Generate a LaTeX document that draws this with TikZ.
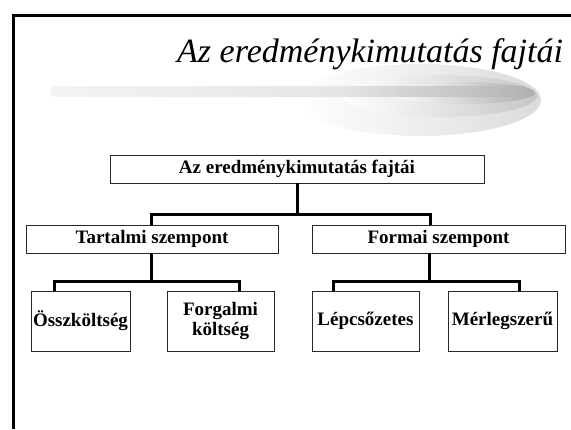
\documentclass[tikz,border=0pt]{standalone}
\usepackage{fontspec}
\setmainfont{Liberation Serif}
\usepackage{tikz}
\usetikzlibrary{calc,positioning}
\usepackage{xcolor}
\definecolor{frame-gray}{RGB}{40,40,40}
\pgfdeclarehorizontalshading{barshade}{100bp}{color(0bp)=(white); color(55bp)=(black!10); color(80bp)=(black!35); color(100bp)=(black!72)}
\tikzstyle{box}=[draw=frame-gray, line width=0.9pt, fill=white, align=center, inner sep=0pt, font=\bfseries\fontsize{19}{20}\selectfont]
\tikzstyle{wide}=[box, minimum height=28pt]
\tikzstyle{leaf}=[box, minimum height=60pt]
\tikzstyle{conn}=[line width=3pt]

\begin{document}
\begin{tikzpicture}[x=1pt,y=-1pt]
	\useasboundingbox (0,0) rectangle (571,429);
	\draw[line width=3pt] (13.5,429) -- (13.5,15) -- (571,15);
	\shade[left color=white, right color=black!14] (420,100) ellipse (121 and 36);
	\shade[left color=white, right color=black!22] (440,96) ellipse (97 and 21);
	\shade[left color=white, right color=black!32] (462,93) ellipse (73 and 11);
	\shade[shading=barshade, rounded corners=5.5pt] (50,86) rectangle (528,97);
	\node[anchor=base west, inner sep=0pt, font=\itshape\fontsize{34}{38}\selectfont] (title) at (177,62) {Az eredménykimutatás fajtái};
	\node[wide, minimum width=374pt] (top) at (297,169) {Az eredménykimutatás fajtái};
	\node[wide, minimum width=252pt] (tart) at (152,239) {Tartalmi szempont};
	\node[wide, minimum width=253pt] (form) at (438.5,239) {Formai szempont};
	\node[leaf, minimum width=99pt] (ossz) at (80.5,321) {Összköltség};
	\node[leaf, minimum width=107pt] (forg) at (220.5,321) {Forgalmi\\költség};
	\node[leaf, minimum width=107pt] (lepcs) at (365.5,321) {Lépcsőzetes};
	\node[leaf, minimum width=109pt] (merl) at (502.5,321) {Mérlegszerű};
	\coordinate (j1) at (297,214);
	\coordinate (j2) at (151,281);
	\coordinate (j3) at (429,281);
	\draw[conn] (top.south) -- (j1);
	\draw[conn] ([xshift=-1pt]tart.north) |- (j1) -| ([xshift=-8.5pt]form.north);
	\draw[conn] ([xshift=-1pt]tart.south) -- (j2);
	\draw[conn] ([xshift=-26.5pt]ossz.north) |- (j2) -| ([xshift=18.5pt]forg.north);
	\draw[conn] ([xshift=-9.5pt]form.south) -- (j3);
	\draw[conn] ([xshift=-32.5pt]lepcs.north) |- (j3) -| ([xshift=16.5pt]merl.north);
\end{tikzpicture}
\end{document}
